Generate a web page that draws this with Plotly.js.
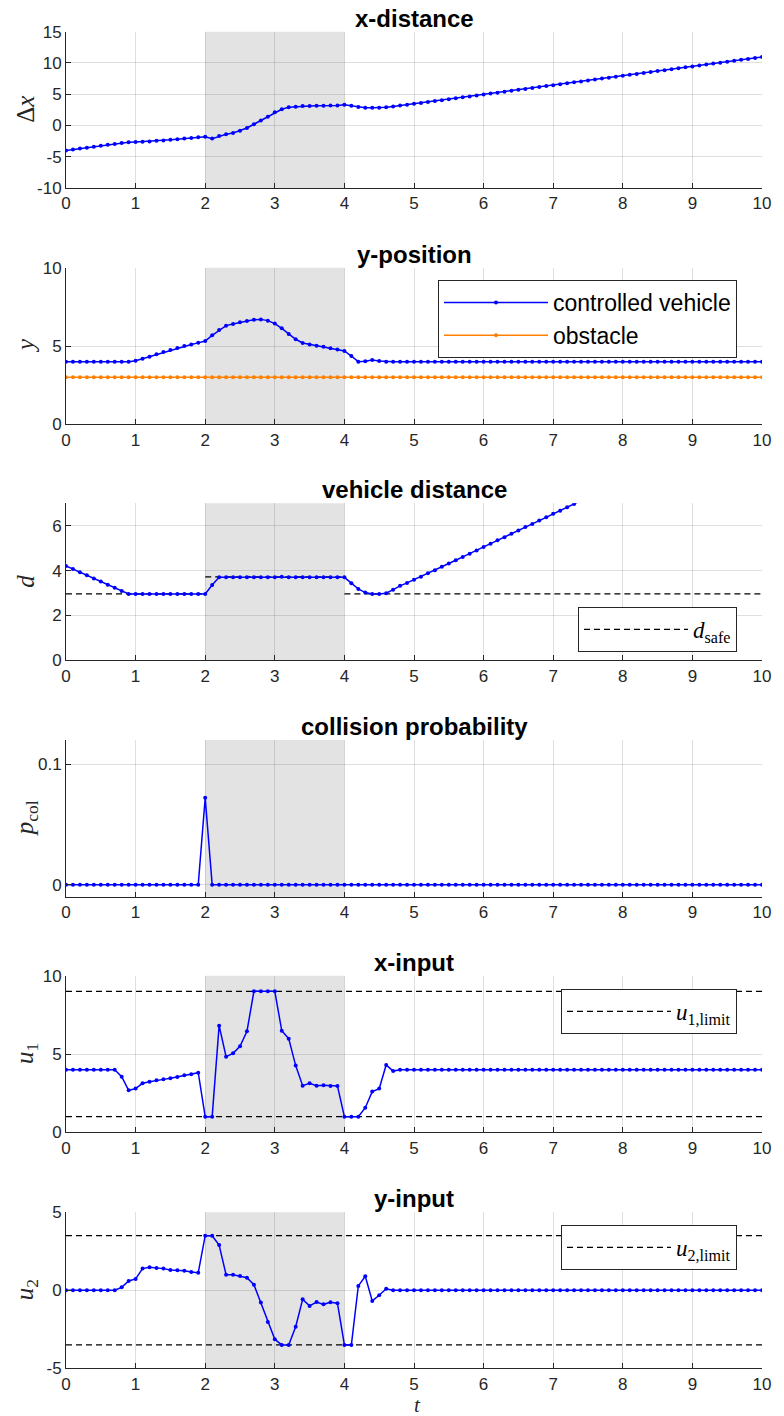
<!DOCTYPE html>
<html><head><meta charset="utf-8">
<script src="https://cdn.plot.ly/plotly-3.0.1.min.js"></script>
<style>body{margin:0;padding:0;background:#fff}</style>
</head><body><div id="chart" style="width:784px;height:1416px"></div>
<script>
// ---------------- data ----------------
const t = [0,0.1,0.2,0.3,0.4,0.5,0.6,0.7,0.8,0.9,
1,1.1,1.2,1.3,1.4,1.5,1.6,1.7,1.8,1.9,
2,2.1,2.2,2.3,2.4,2.5,2.6,2.7,2.8,2.9,
3,3.1,3.2,3.3,3.4,3.5,3.6,3.7,3.8,3.9,
4,4.1,4.2,4.3,4.4,4.5,4.6,4.7,4.8,4.9,
5,5.1,5.2,5.3,5.4,5.5,5.6,5.7,5.8,5.9,
6,6.1,6.2,6.3,6.4,6.5,6.6,6.7,6.8,6.9,
7,7.1,7.2,7.3,7.4,7.5,7.6,7.7,7.8,7.9,
8,8.1,8.2,8.3,8.4,8.5,8.6,8.7,8.8,8.9,
9,9.1,9.2,9.3,9.4,9.5,9.6,9.7,9.8,9.9,
10];

const deltaX = [-4.0,-3.85,-3.7,-3.55,-3.4,-3.25,-3.1,-2.95,-2.8,-2.7,
-2.65,-2.6,-2.55,-2.45,-2.4,-2.3,-2.2,-2.1,-2.0,-1.9,
-1.8,-2.1,-1.7,-1.4,-1.2,-0.85,-0.4,0.2,0.8,1.4,
2.1,2.6,2.9,3.0,3.1,3.1,3.15,3.15,3.2,3.2,
3.3,3.15,2.95,2.85,2.85,2.85,2.9,3.05,3.2,3.33,
3.46,3.6,3.75,3.9,4.05,4.2,4.35,4.5,4.65,4.8,
4.95,5.1,5.25,5.4,5.55,5.7,5.85,6.0,6.15,6.3,
6.45,6.6,6.75,6.9,7.05,7.2,7.35,7.5,7.65,7.8,
7.95,8.1,8.25,8.4,8.55,8.7,8.85,9.0,9.15,9.3,
9.45,9.6,9.75,9.9,10.05,10.2,10.35,10.5,10.65,10.8,
10.95];

const yVehicle = [4,4,4,4,4,4,4,4,4,4,
4.06,4.19,4.32,4.47,4.62,4.74,4.87,5.0,5.1,5.2,
5.32,5.68,6.02,6.3,6.4,6.51,6.6,6.68,6.7,6.62,
6.43,6.13,5.77,5.43,5.19,5.1,5.02,4.96,4.85,4.77,
4.68,4.36,4.0,4.02,4.1,4.04,4.0,4.0,4.0,4.0,
4,4,4,4,4,4,4,4,4,4,
4,4,4,4,4,4,4,4,4,4,
4,4,4,4,4,4,4,4,4,4,
4,4,4,4,4,4,4,4,4,4,
4,4,4,4,4,4,4,4,4,4,
4];

const yObstacle = [3,3,3,3,3,3,3,3,3,3,
3,3,3,3,3,3,3,3,3,3,
3,3,3,3,3,3,3,3,3,3,
3,3,3,3,3,3,3,3,3,3,
3,3,3,3,3,3,3,3,3,3,
3,3,3,3,3,3,3,3,3,3,
3,3,3,3,3,3,3,3,3,3,
3,3,3,3,3,3,3,3,3,3,
3,3,3,3,3,3,3,3,3,3,
3,3,3,3,3,3,3,3,3,3,
3];

const dist = [4.21,4.07,3.93,3.79,3.65,3.51,3.37,3.23,3.09,2.96,
2.96,2.96,2.96,2.96,2.96,2.96,2.96,2.96,2.96,2.96,
2.96,3.36,3.7,3.7,3.7,3.7,3.7,3.7,3.7,3.7,
3.7,3.72,3.7,3.7,3.7,3.7,3.7,3.7,3.7,3.7,
3.7,3.44,3.18,3.02,2.96,2.96,2.99,3.15,3.32,3.45,
3.59,3.73,3.88,4.02,4.17,4.32,4.46,4.61,4.75,4.9,
5.05,5.2,5.35,5.49,5.64,5.79,5.94,6.08,6.23,6.38,
6.53,6.67,6.82,6.97,7.12,7.27,7.42,7.56,7.71,7.86,
8.01,8.16,8.31,8.45,8.6,8.75,8.9,9.05,9.2,9.35,
9.5,9.65,9.8,9.95,10.1,10.25,10.4,10.55,10.69,10.84,
10.99];

const dSafeT = [0,2,null,2,4,null,4,10];
const dSafe  = [2.96,2.96,null,3.72,3.72,null,2.96,2.96];

const pCol = [0,0,0,0,0,0,0,0,0,0,
0,0,0,0,0,0,0,0,0,0,
0.072,0,0,0,0,0,0,0,0,0,
0,0,0,0,0,0,0,0,0,0,
0,0,0,0,0,0,0,0,0,0,
0,0,0,0,0,0,0,0,0,0,
0,0,0,0,0,0,0,0,0,0,
0,0,0,0,0,0,0,0,0,0,
0,0,0,0,0,0,0,0,0,0,
0,0,0,0,0,0,0,0,0,0,
0];

const u1 = [4,4,4,4,4,4,4,4,3.55,2.68,
2.79,3.13,3.23,3.32,3.38,3.45,3.53,3.64,3.7,3.81,
1,1,6.81,4.83,5.04,5.49,6.45,9,9,9,
9,6.49,5.98,4.26,2.98,3.13,2.98,3.0,2.96,2.96,
1,1,1,1.57,2.6,2.79,4.3,3.91,4,4,
4,4,4,4,4,4,4,4,4,4,
4,4,4,4,4,4,4,4,4,4,
4,4,4,4,4,4,4,4,4,4,
4,4,4,4,4,4,4,4,4,4,
4,4,4,4,4,4,4,4,4,4,
4];

const u2 = [0,0,0,0,0,0,0,0,0.19,0.6,
0.73,1.39,1.47,1.43,1.39,1.3,1.28,1.26,1.18,1.13,
3.5,3.5,2.9,1.0,1.0,0.92,0.81,0.36,-0.79,-2.03,
-3.14,-3.5,-3.5,-2.33,-0.58,-1.0,-0.75,-0.9,-0.77,-0.83,
-3.5,-3.5,0.28,0.9,-0.68,-0.32,0.1,0,0,0,
0,0,0,0,0,0,0,0,0,0,
0,0,0,0,0,0,0,0,0,0,
0,0,0,0,0,0,0,0,0,0,
0,0,0,0,0,0,0,0,0,0,
0,0,0,0,0,0,0,0,0,0,
0];

const limT = [0,10];
const u1Upper = [9,9];
const u1Lower = [1,1];
const u2Upper = [3.5,3.5];
const u2Lower = [-3.5,-3.5];

const shadeRange = [2,4];

const xTicks = [0,1,2,3,4,5,6,7,8,9,10];
const xTickText = ['0','1','2','3','4','5','6','7','8','9','10'];
const yTicks = [[-10,-5,0,5,10,15],[0,5,10],[0,2,4,6],[0,0.1],[0,5,10],[-5,0,5]];
const yTickText = [['-10','-5','0','5','10','15'],['0','5','10'],['0','2','4','6'],['0','0.1'],['0','5','10'],['-5','0','5']];
const yRanges = [[-10,15],[0,10],[0,7],[-0.01,0.12],[0,10],[-5,5]];

const titles = ['x-distance','y-position','vehicle distance','collision probability','x-input','y-input'];
const yLabels = ['Δ<i>x</i>','<i>y</i>','<i>d</i>','<i>p</i><sub>col</sub>','<i>u</i><sub>1</sub>','<i>u</i><sub>2</sub>'];
const xLabel = '<i>t</i>';
const legendNames = ['controlled vehicle','obstacle','<i>d</i><sub>safe</sub>','<i>u</i><sub>1,limit</sub>','<i>u</i><sub>2,limit</sub>'];

// ---------------- layout geometry (pixels) ----------------
const W = 784, H = 1416, ML = 66, MR = 22;
const PW = W - ML - MR;
const panelTop = [31.7, 267.7, 503.3, 740, 975.7, 1212.3];
const panelBot = [188, 424.3, 660.3, 896.7, 1132.3, 1368.3];
const py = p => 1 - p / H;
const px = p => (p - ML) / PW;

const BLUE = '#0000ff', ORANGE = '#ff8000', DARK = '#262626';
const sans = 'Liberation Sans, Arial, sans-serif';
const serif = 'Liberation Serif, Times New Roman, serif';

function blueTrace(y, ax, name, legend, show) {
  return {x: t, y: y, xaxis: 'x' + ax, yaxis: 'y' + ax, type: 'scatter', mode: 'lines+markers',
    line: {color: BLUE, width: 1.5}, marker: {color: BLUE, size: 4}, name: name,
    showlegend: !!show, legend: legend || 'legend', hoverinfo: 'skip'};
}
function dashTrace(x, y, ax, name, legend, show) {
  return {x: x, y: y, xaxis: 'x' + ax, yaxis: 'y' + ax, type: 'scatter', mode: 'lines',
    line: {color: '#000', width: 1.2, dash: '6px,4px'}, name: name, connectgaps: false,
    showlegend: !!show, legend: legend || 'legend', hoverinfo: 'skip'};
}

const traces = [
  blueTrace(deltaX, '', 'dx', 'legend', false),
  blueTrace(yVehicle, '2', legendNames[0], 'legend', true),
  {x: t, y: yObstacle, xaxis: 'x2', yaxis: 'y2', type: 'scatter', mode: 'lines+markers',
    line: {color: ORANGE, width: 1.5}, marker: {color: ORANGE, size: 4}, name: legendNames[1],
    showlegend: true, legend: 'legend', hoverinfo: 'skip'},
  dashTrace(dSafeT, dSafe, '3', legendNames[2], 'legend2', true),
  blueTrace(dist, '3', 'd', 'legend2', false),
  blueTrace(pCol, '4', 'p', 'legend', false),
  dashTrace(limT, u1Upper, '5', legendNames[3], 'legend3', true),
  dashTrace(limT, u1Lower, '5', 'lo', 'legend3', false),
  blueTrace(u1, '5', 'u1', 'legend3', false),
  dashTrace(limT, u2Upper, '6', legendNames[4], 'legend4', true),
  dashTrace(limT, u2Lower, '6', 'lo', 'legend4', false),
  blueTrace(u2, '6', 'u2', 'legend4', false)
];

const layout = {
  width: W, height: H,
  margin: {l: ML, r: MR, t: 0, b: 0, pad: 0},
  paper_bgcolor: '#fff', plot_bgcolor: '#fff',
  font: {family: sans, color: DARK},
  showlegend: true,
  shapes: [], annotations: []
};

for (let i = 0; i < 6; i++) {
  const n = i === 0 ? '' : String(i + 1);
  layout['xaxis' + n] = {
    domain: [0, 1], anchor: 'y' + n, range: [0, 10], tickmode: 'array',
    tickvals: xTicks, ticktext: xTickText, showgrid: true,
    gridcolor: 'rgba(38,38,38,0.15)', gridwidth: 1, zeroline: false,
    showline: true, linecolor: DARK, linewidth: 1, mirror: false,
    ticks: 'inside', ticklen: 5, tickcolor: DARK, tickwidth: 1,
    tickfont: {family: sans, size: 17, color: DARK}, fixedrange: true
  };
  layout['yaxis' + n] = {
    domain: [py(panelBot[i]), py(panelTop[i])], anchor: 'x' + n, range: yRanges[i],
    tickmode: 'array', tickvals: yTicks[i], ticktext: yTickText[i], showgrid: true,
    gridcolor: 'rgba(38,38,38,0.15)', gridwidth: 1, zeroline: false,
    showline: true, linecolor: DARK, linewidth: 1, mirror: false,
    ticks: 'inside', ticklen: 5, tickcolor: DARK, tickwidth: 1,
    tickfont: {family: sans, size: 17, color: DARK}, fixedrange: true
  };
  layout.shapes.push({type: 'rect', xref: 'x' + n, yref: 'y' + n + ' domain',
    x0: shadeRange[0], x1: shadeRange[1], y0: 0, y1: 1,
    fillcolor: '#e3e3e3', line: {width: 0}, layer: 'below'});
  layout.annotations.push({text: '<b>' + titles[i] + '</b>', xref: 'paper', yref: 'paper',
    x: 0.5, y: py(panelTop[i] - 13.5), xanchor: 'center', yanchor: 'middle', showarrow: false,
    font: {family: sans, size: 24, color: '#000'}});
  layout.annotations.push({text: yLabels[i], xref: 'paper', yref: 'paper',
    x: px(26), y: py((panelTop[i] + panelBot[i]) / 2), xanchor: 'center', yanchor: 'middle',
    textangle: -90, showarrow: false, font: {family: serif, size: 25, color: DARK}});
}
layout.annotations.push({text: xLabel, xref: 'paper', yref: 'paper', x: px(417), y: py(1405),
  xanchor: 'center', yanchor: 'middle', borderpad: 0, showarrow: false,
  font: {family: serif, size: 21, color: DARK}});

const legBase = {xref: 'paper', yref: 'paper', xanchor: 'right', yanchor: 'top',
  bgcolor: '#fff', bordercolor: DARK, borderwidth: 1, itemwidth: 104, tracegroupgap: 0};
layout.legend = Object.assign({}, legBase, {x: px(737), y: py(280), font: {family: sans, size: 23, color: '#000'}});
layout.legend2 = Object.assign({}, legBase, {x: px(737), y: py(607), font: {family: serif, size: 23, color: '#000'}});
layout.legend3 = Object.assign({}, legBase, {x: px(737), y: py(989), font: {family: serif, size: 23, color: '#000'}});
layout.legend4 = Object.assign({}, legBase, {x: px(737), y: py(1225), font: {family: serif, size: 23, color: '#000'}});

Plotly.newPlot('chart', traces, layout, {displayModeBar: false, staticPlot: true});
</script>
</body></html>
